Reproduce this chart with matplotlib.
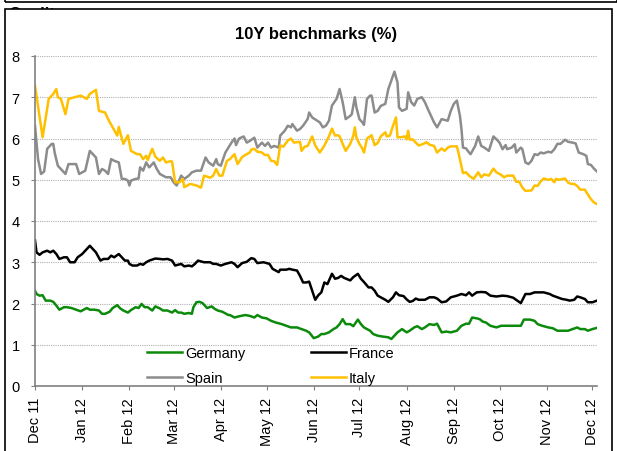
import numpy as np
import pandas as pd
import matplotlib
matplotlib.use('Agg')
import matplotlib.pyplot as plt
import matplotlib.dates as mdates
from matplotlib.patches import Rectangle

plt.rcParams['font.family'] = ['Liberation Sans', 'DejaVu Sans']

start = pd.Timestamp('2011-12-01')

# 德国 (days since 1 Dec 2011, yield %)
germany_days = [0, 1, 3, 5, 7, 10, 12, 14, 16, 19, 21, 24, 27, 30, 32, 34, 36, 39, 42, 44, 46, 49, 51, 54, 56, 58,
                61, 63, 66, 68, 70, 72, 74, 77, 79, 82, 84, 87, 90, 92, 94, 96, 98, 101, 103, 104, 106, 108, 110,
                113, 116, 118, 120, 123, 127, 128, 131, 134, 138, 141, 144, 146, 149, 152, 155, 158, 162, 165, 168,
                172, 175, 178, 180, 183, 186, 188, 190, 193, 196, 198, 200, 202, 204, 207, 209, 212, 214, 216, 220,
                222, 225, 228, 232, 234, 236, 238, 241, 244, 246, 249, 251, 254, 256, 259, 262, 264, 267, 270, 273,
                277, 280, 283, 285, 287, 290, 292, 294, 296, 299, 303, 306, 309, 313, 316, 319, 321, 325, 328, 330,
                333, 337, 340, 343, 346, 350, 353, 356, 358, 361, 363, 366, 369]
germany = [2.31, 2.23, 2.19, 2.2, 2.07, 2.07, 2.04, 1.95, 1.85, 1.91, 1.91, 1.89, 1.85, 1.81, 1.85, 1.89, 1.85, 1.85,
           1.83, 1.75, 1.75, 1.8, 1.89, 1.96, 1.88, 1.83, 1.78, 1.84, 1.91, 1.89, 1.99, 1.91, 1.91, 1.83, 1.93,
           1.88, 1.83, 1.83, 1.78, 1.84, 1.78, 1.78, 1.75, 1.77, 1.75, 1.91, 2.03, 2.04, 2.01, 1.89, 1.93, 1.87,
           1.83, 1.8, 1.72, 1.72, 1.66, 1.69, 1.72, 1.7, 1.66, 1.72, 1.66, 1.64, 1.58, 1.54, 1.5, 1.46, 1.42, 1.42,
           1.38, 1.34, 1.3, 1.16, 1.2, 1.26, 1.26, 1.3, 1.38, 1.42, 1.5, 1.62, 1.5, 1.5, 1.45, 1.61, 1.5, 1.42,
           1.34, 1.26, 1.22, 1.2, 1.18, 1.14, 1.22, 1.3, 1.38, 1.3, 1.34, 1.42, 1.45, 1.38, 1.42, 1.5, 1.48, 1.51,
           1.3, 1.32, 1.3, 1.34, 1.46, 1.51, 1.51, 1.66, 1.64, 1.62, 1.56, 1.54, 1.46, 1.42, 1.46, 1.46, 1.46,
           1.46, 1.46, 1.61, 1.61, 1.58, 1.5, 1.46, 1.42, 1.4, 1.34, 1.34, 1.34, 1.38, 1.42, 1.38, 1.38, 1.34,
           1.38, 1.41]

france_days = [0, 1, 3, 5, 8, 10, 12, 14, 16, 19, 21, 23, 26, 28, 31, 33, 36, 38, 40, 43, 45, 48, 50, 52, 55, 57,
               59, 61, 62, 64, 67, 69, 71, 73, 75, 79, 82, 84, 87, 90, 92, 94, 96, 98, 101, 103, 105, 107, 109, 111,
               115, 117, 119, 122, 125, 129, 131, 133, 136, 139, 142, 144, 146, 150, 152, 154, 156, 160, 161, 165,
               167, 169, 172, 174, 176, 178, 180, 182, 184, 186, 188, 190, 192, 195, 197, 199, 201, 203, 207, 209,
               212, 214, 216, 219, 221, 223, 225, 227, 230, 232, 235, 237, 239, 242, 244, 246, 248, 250, 252, 256,
               259, 262, 264, 267, 270, 273, 277, 280, 283, 285, 287, 290, 293, 296, 299, 303, 307, 310, 314, 317,
               319, 322, 325, 328, 331, 334, 338, 340, 343, 346, 349, 351, 354, 356, 358, 361, 363, 366, 369]
france = [3.53, 3.24, 3.18, 3.24, 3.28, 3.24, 3.28, 3.2, 3.08, 3.12, 3.12, 3.0, 3.0, 3.12, 3.2, 3.28, 3.4, 3.32,
          3.24, 3.04, 3.08, 3.08, 3.16, 3.12, 3.2, 3.12, 3.04, 3.04, 2.96, 2.92, 2.92, 2.96, 2.94, 3.0, 3.04, 3.09,
          3.08, 3.07, 3.08, 3.04, 2.92, 2.94, 2.96, 2.9, 2.92, 2.9, 2.96, 3.04, 3.02, 3.0, 3.0, 2.96, 2.96, 2.92,
          2.96, 3.0, 2.96, 2.88, 2.98, 3.01, 3.1, 3.08, 2.98, 3.0, 2.98, 2.96, 2.84, 2.76, 2.82, 2.82, 2.84, 2.82,
          2.8, 2.67, 2.51, 2.51, 2.53, 2.31, 2.09, 2.2, 2.27, 2.51, 2.47, 2.72, 2.6, 2.62, 2.67, 2.62, 2.56, 2.64,
          2.72, 2.6, 2.52, 2.39, 2.39, 2.31, 2.19, 2.15, 2.09, 2.04, 2.15, 2.27, 2.2, 2.18, 2.1, 2.04, 2.06, 2.12,
          2.09, 2.09, 2.15, 2.15, 2.12, 2.03, 2.05, 2.15, 2.19, 2.23, 2.2, 2.27, 2.19, 2.27, 2.28, 2.27, 2.19, 2.17,
          2.19, 2.18, 2.14, 2.06, 2.01, 2.23, 2.23, 2.27, 2.27, 2.27, 2.23, 2.19, 2.15, 2.11, 2.09, 2.07, 2.09,
          2.17, 2.15, 2.11, 2.03, 2.03, 2.07]

spain_days = [0, 2, 4, 6, 8, 11, 12, 13, 15, 17, 20, 22, 24, 27, 29, 31, 33, 36, 38, 40, 42, 44, 46, 48, 50, 52,
              55, 57, 59, 61, 62, 63, 66, 68, 69, 71, 73, 75, 78, 80, 82, 86, 89, 91, 93, 96, 98, 101, 103, 106, 109,
              112, 114, 117, 119, 120, 122, 125, 127, 129, 131, 132, 134, 137, 139, 141, 144, 146, 149, 151, 153,
              155, 157, 160, 161, 164, 166, 168, 169, 172, 174, 176, 179, 180, 182, 187, 189, 191, 193, 195, 198,
              200, 202, 204, 207, 208, 210, 211, 213, 215, 216, 218, 220, 221, 223, 225, 227, 230, 232, 234, 236,
              238, 239, 241, 244, 245, 247, 249, 251, 254, 256, 258, 260, 262, 264, 267, 269, 271, 273, 275, 277,
              279, 280, 281, 283, 285, 286, 289, 291, 293, 295, 298, 301, 303, 305, 307, 309, 310, 313, 315, 316,
              319, 320, 322, 324, 326, 328, 330, 332, 334, 337, 339, 341, 343, 345, 348, 350, 353, 355, 357, 360,
              362, 363, 365, 367, 369]
spain = [6.3, 5.5, 5.14, 5.2, 5.75, 5.87, 5.87, 5.64, 5.34, 5.26, 5.14, 5.38, 5.38, 5.38, 5.14, 5.18, 5.22, 5.7,
         5.62, 5.54, 5.14, 5.26, 5.22, 5.14, 5.5, 5.46, 5.42, 5.02, 5.02, 4.98, 4.86, 4.98, 5.02, 5.03, 5.3, 5.22,
         5.42, 5.3, 5.42, 5.26, 5.14, 5.06, 5.06, 4.94, 4.86, 5.1, 5.02, 5.1, 5.18, 5.22, 5.22, 5.54, 5.42, 5.34,
         5.5, 5.38, 5.34, 5.66, 5.78, 5.9, 6.0, 5.84, 6.0, 6.05, 5.9, 5.94, 6.02, 5.78, 5.9, 5.82, 5.9, 5.78, 5.82,
         5.78, 6.07, 6.19, 6.31, 6.27, 6.35, 6.19, 6.23, 6.31, 6.47, 6.63, 6.51, 6.39, 6.27, 6.31, 6.43, 6.8, 6.96,
         7.2, 6.88, 6.47, 6.55, 6.59, 7.0, 6.76, 6.47, 6.39, 6.33, 6.96, 7.04, 7.04, 6.63, 6.67, 6.79, 6.84, 7.2,
         7.41, 7.62, 7.36, 6.75, 6.67, 6.72, 7.12, 6.88, 6.8, 6.96, 7.0, 6.88, 6.71, 6.55, 6.39, 6.27, 6.47, 6.45,
         6.43, 6.67, 6.84, 6.92, 6.55, 6.23, 5.78, 5.76, 5.66, 5.62, 5.82, 6.05, 5.82, 5.78, 5.7, 6.05, 5.98, 5.9,
         5.74, 5.84, 5.74, 5.78, 5.86, 5.66, 5.78, 5.74, 5.42, 5.38, 5.46, 5.62, 5.6, 5.66, 5.64, 5.68, 5.66, 5.74,
         5.87, 5.87, 5.97, 5.92, 5.9, 5.88, 5.66, 5.62, 5.58, 5.38, 5.36, 5.27, 5.2]

italy_days = [0, 5, 9, 12, 14, 15, 17, 20, 22, 26, 30, 34, 36, 40, 42, 46, 48, 51, 54, 55, 58, 61, 63, 67, 69, 71,
              73, 74, 77, 79, 82, 84, 86, 89, 90, 92, 95, 97, 98, 102, 106, 109, 111, 115, 117, 119, 121, 123, 126,
              128, 131, 133, 136, 138, 141, 142, 144, 146, 149, 151, 153, 155, 157, 159, 161, 163, 166, 168, 170,
              174, 175, 177, 179, 182, 184, 187, 190, 193, 195, 197, 199, 200, 202, 204, 207, 209, 210, 211, 213,
              215, 216, 218, 220, 221, 223, 225, 227, 230, 231, 233, 235, 237, 238, 240, 243, 244, 245, 246, 248,
              250, 252, 255, 257, 259, 261, 262, 264, 267, 269, 271, 273, 277, 278, 281, 283, 285, 288, 291, 293,
              295, 298, 301, 303, 306, 308, 310, 314, 316, 318, 320, 322, 326, 328, 330, 332, 334, 337, 339, 341,
              342, 344, 348, 350, 352, 354, 356, 358, 361, 362, 365, 367, 369]
italy = [7.28, 6.03, 6.96, 7.08, 7.2, 7.0, 6.96, 6.59, 6.96, 7.0, 7.04, 6.96, 7.08, 7.18, 6.67, 6.63, 6.47, 6.27,
         6.07, 6.28, 5.87, 6.08, 5.7, 5.62, 5.62, 5.5, 5.58, 5.48, 5.75, 5.56, 5.46, 5.54, 5.42, 5.45, 5.44, 4.94,
         4.94, 5.02, 4.82, 4.9, 4.86, 4.81, 5.1, 5.05, 5.1, 5.26, 5.1, 5.1, 5.46, 5.5, 5.62, 5.38, 5.55, 5.6, 5.66,
         5.73, 5.75, 5.68, 5.66, 5.6, 5.6, 5.46, 5.45, 5.36, 5.83, 5.8, 5.95, 6.0, 5.9, 5.92, 5.7, 5.8, 5.82, 6.05,
         5.83, 5.66, 5.83, 6.05, 6.24, 6.07, 6.08, 6.05, 5.87, 5.7, 5.87, 6.07, 6.27, 6.03, 5.87, 5.75, 5.66, 6.0,
         6.05, 6.08, 5.84, 5.89, 6.05, 6.15, 6.05, 6.07, 6.3, 6.51, 6.03, 6.03, 6.05, 5.98, 6.19, 5.97, 5.98, 5.9,
         5.83, 5.87, 5.91, 5.85, 5.83, 5.82, 5.66, 5.76, 5.7, 5.78, 5.81, 5.81, 5.66, 5.16, 5.18, 5.1, 5.02, 5.18,
         5.06, 5.13, 5.1, 5.27, 5.18, 5.12, 5.06, 5.1, 5.1, 4.95, 4.95, 4.81, 4.73, 4.74, 4.86, 4.85, 4.96, 5.03,
         5.0, 5.02, 4.94, 5.02, 5.0, 5.03, 4.93, 4.9, 4.9, 4.85, 4.76, 4.76, 4.7, 4.53, 4.45, 4.41]

names = ['Germany', 'France', 'Spain', 'Italy']
colors = ['#0b8a0b', '#000000', '#8c8c8c', '#ffc000']


def to_dates(days):
    return start + pd.to_timedelta(days, unit='D')


fig = plt.figure(figsize=(6.17, 4.52), dpi=100)

# 外框
fig.text(8 / 617, 1 - 7 / 452, 'Quality', fontsize=12, fontweight='bold', va='top', ha='left', zorder=-3)
fig.patches.append(Rectangle((5 / 617, -0.1), 607 / 617, 1.1 - 10 / 452, transform=fig.transFigure,
                             facecolor='white', edgecolor='black', linewidth=1.2, zorder=-2))
fig.patches.append(Rectangle((5 / 617, 1 - 3 / 452), 612 / 617, 0.2, transform=fig.transFigure,
                             facecolor='none', edgecolor='black', linewidth=1.2, zorder=-2))

ax = fig.add_axes([35 / 617, 1 - 387 / 452, 562 / 617, 330 / 452])
ax.patch.set_alpha(0)

lines = []
for d, v, n, c in zip([germany_days, france_days, spain_days, italy_days], [germany, france, spain, italy],
                      names, colors):
    l, = ax.plot(to_dates(d), v, color=c, linewidth=1.8, label=n)
    lines.append(l)

ax.set_xlim(start, start + pd.Timedelta(days=369))
ax.set_ylim(0, 8)
ax.set_yticks(range(0, 9))
ax.yaxis.grid(True, linestyle=(0, (1, 1)), color='#b0b0b0', linewidth=0.8)
ax.set_axisbelow(True)

ax.xaxis.set_major_locator(mdates.MonthLocator())
ax.xaxis.set_major_formatter(mdates.DateFormatter('%b %y'))
plt.setp(ax.get_xticklabels(), rotation=90)

for s in ['top', 'right']:
    ax.spines[s].set_visible(False)
for s in ['left', 'bottom']:
    ax.spines[s].set_color('#808080')
    ax.spines[s].set_linewidth(1.2)
ax.tick_params(axis='y', length=3, color='#808080', pad=8, labelsize=10.5)
ax.tick_params(axis='x', length=3, color='#808080', pad=5, labelsize=10.5)

ax.set_title('10Y benchmarks (%)', fontsize=12, fontweight='bold', pad=13)

ax.legend([lines[0], lines[2], lines[1], lines[3]], ['Germany', 'Spain', 'France', 'Italy'],
          ncol=2, frameon=False, loc='upper left', bbox_to_anchor=(0.2, 0.12), fontsize=10.5,
          handlelength=2.4, handletextpad=0.2, columnspacing=4.5, labelspacing=0.7,
          borderpad=0, borderaxespad=0)

fig.savefig('out.png', dpi=100)
